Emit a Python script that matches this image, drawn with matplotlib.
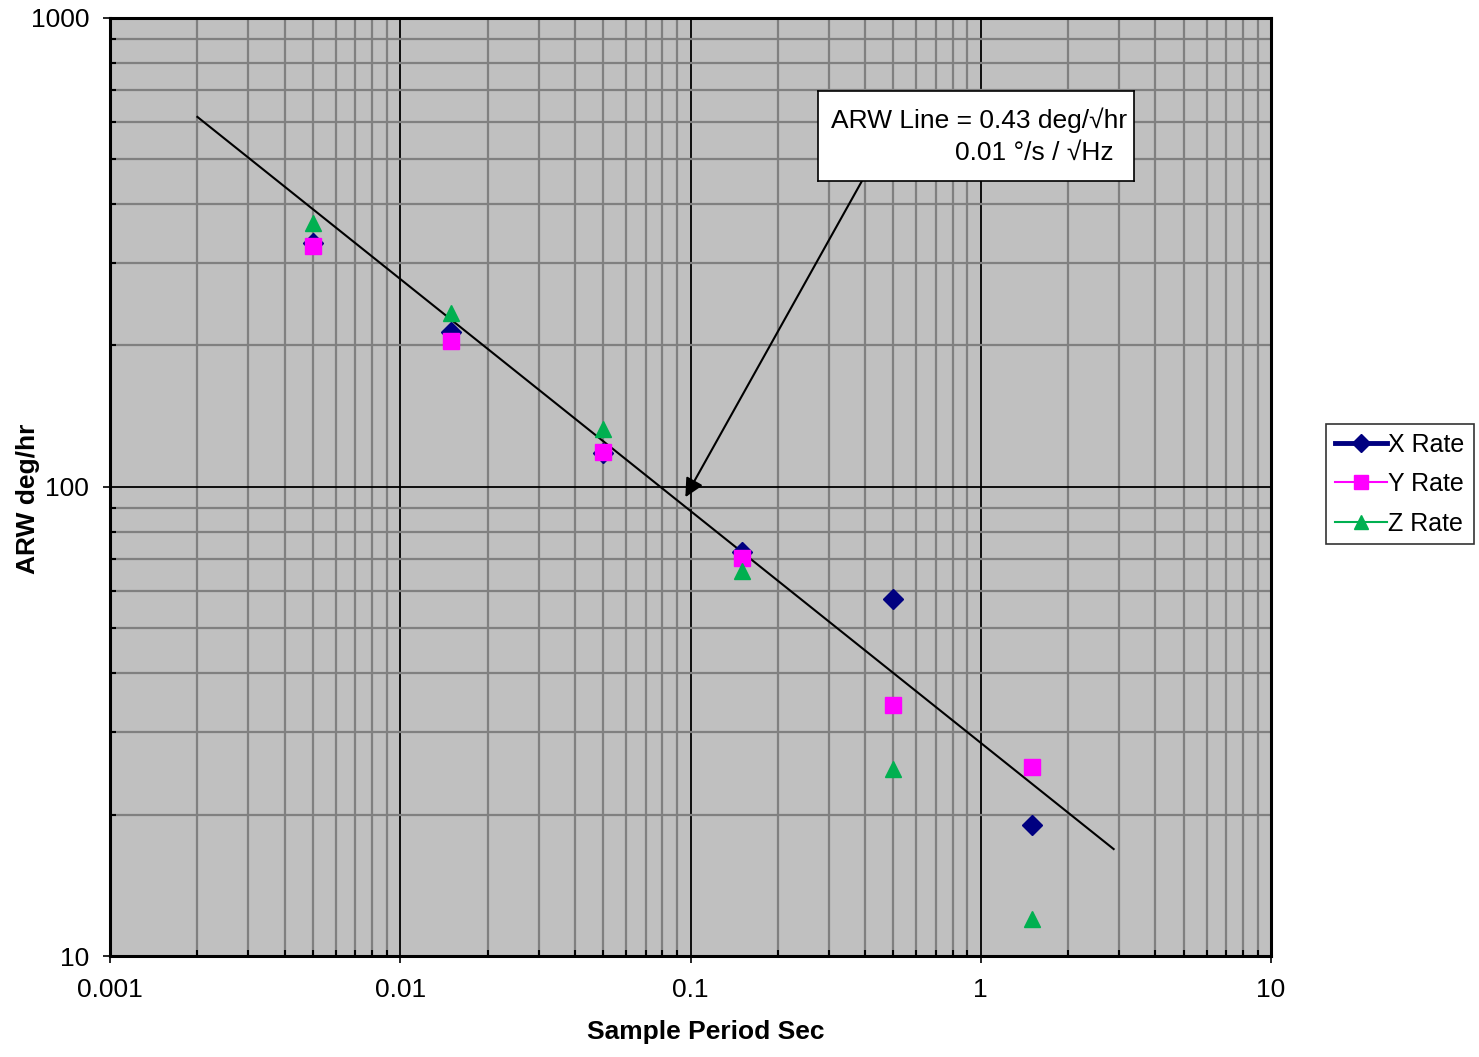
import matplotlib
matplotlib.use("Agg")
import matplotlib.pyplot as plt
from matplotlib.ticker import LogLocator, FixedLocator, NullFormatter, FixedFormatter
from matplotlib.lines import Line2D

plt.rcParams['font.family'] = ['Liberation Sans', 'DejaVu Sans']

# Data
sample_period = [0.005, 0.015, 0.05, 0.15, 0.5, 1.5]
x_rate = [330, 214, 117.8, 72.7, 57.7, 19.0]
y_rate = [326, 204.5, 118.4, 70.4, 34.2, 25.3]
z_rate = [364, 235, 132.6, 66.2, 25.0, 12.0]

arw_x = [0.002, 2.87]
arw_y = [614, 16.9]

arrow_tail = (0.391, 450)
arrow_head = (0.096, 95)

x_ticks = [0.001, 0.01, 0.1, 1, 10]
x_tick_labels = ['0.001', '0.01', '0.1', '1', '10']
y_ticks = [10, 100, 1000]
y_tick_labels = ['10', '100', '1000']

FS = 19

W, H = 1479, 1057
fig = plt.figure(figsize=(W / 100, H / 100), dpi=100)
ax = fig.add_axes([110 / W, 1 - 956 / H, 1161 / W, 938.5 / H])
ax.set_facecolor('#C0C0C0')
ax.set_xscale('log')
ax.set_yscale('log')
ax.set_xlim(0.001, 10)
ax.set_ylim(10, 1000)

ax.xaxis.set_major_locator(FixedLocator(x_ticks))
ax.xaxis.set_major_formatter(FixedFormatter(x_tick_labels))
ax.yaxis.set_major_locator(FixedLocator(y_ticks))
ax.yaxis.set_major_formatter(FixedFormatter(y_tick_labels))
ax.xaxis.set_minor_locator(LogLocator(base=10, subs=range(2, 10), numticks=20))
ax.yaxis.set_minor_locator(LogLocator(base=10, subs=range(2, 10), numticks=20))
ax.xaxis.set_minor_formatter(NullFormatter())
ax.yaxis.set_minor_formatter(NullFormatter())

ax.grid(which='minor', color='#808080', linewidth=1.6, zorder=0)
ax.grid(which='major', color='black', linewidth=1.3, zorder=0)
ax.set_axisbelow(True)

ax.tick_params(which='major', direction='out', length=5, width=1.2, labelsize=FS)
ax.tick_params(axis='y', which='major', pad=10)
ax.tick_params(axis='x', which='major', pad=11)
ax.tick_params(which='minor', direction='in', length=4, width=1.5)
for s in ax.spines.values():
    s.set_linewidth(2.2)
    s.set_color('black')

ax.plot(arw_x, arw_y, color='black', linewidth=1.5, zorder=3)

ax.plot(sample_period, x_rate, linestyle='none', marker='D', markersize=10,
        color='#000080', zorder=4)
ax.plot(sample_period, y_rate, linestyle='none', marker='s', markersize=11,
        color='#FF00FF', zorder=5)
ax.plot(sample_period, z_rate, linestyle='none', marker='^', markersize=11,
        color='#00B050', zorder=6)

ax.annotate('', xy=arrow_head, xytext=arrow_tail,
            arrowprops=dict(arrowstyle='-|>', color='black', lw=1.5,
                            mutation_scale=28, shrinkA=0, shrinkB=0), zorder=7)

# Annotation box
bx0, by0, bx1, by1 = 818, 91, 1134, 181
box_ax = fig.add_axes([bx0 / W, 1 - by1 / H, (bx1 - bx0) / W, (by1 - by0) / H])
box_ax.set_xticks([])
box_ax.set_yticks([])
box_ax.set_facecolor('white')
for s in box_ax.spines.values():
    s.set_linewidth(1.2)
    s.set_color('black')
box_ax.text(0.978, 0.68, 'ARW Line = 0.43 deg/\u221ahr', ha='right', va='center',
            fontsize=FS, transform=box_ax.transAxes)
box_ax.text(0.935, 0.31, '0.01 \u00b0/s / \u221aHz', ha='right', va='center',
            fontsize=FS, transform=box_ax.transAxes)

ax.set_xlabel('Sample Period Sec', fontsize=FS, fontweight='bold', va='center')
ax.xaxis.set_label_coords((706 - 110) / 1161, -(1032 - 956) / 938.5)
ax.set_ylabel('ARW deg/hr', fontsize=FS, fontweight='bold', va='center')
ax.yaxis.set_label_coords((28 - 110) / 1161, (956 - 499) / 938.5)

handles = [
    Line2D([], [], color='#000080', marker='D', markersize=9, linewidth=3.5),
    Line2D([], [], color='#FF00FF', marker='s', markersize=10, linewidth=1.5),
    Line2D([], [], color='#00B050', marker='^', markersize=10, linewidth=1.5),
]
leg = fig.legend(handles, ['X Rate', 'Y Rate', 'Z Rate'],
                 loc='upper left', bbox_to_anchor=(1326 / W, 1 - 424 / H),
                 frameon=True, fancybox=False, edgecolor='black', fontsize=18,
                 handlelength=2.1, handletextpad=0.05, borderpad=0.35,
                 labelspacing=0.62, borderaxespad=0)
leg.get_frame().set_linewidth(1.2)

fig.savefig('out.png', dpi=100, facecolor='white')
